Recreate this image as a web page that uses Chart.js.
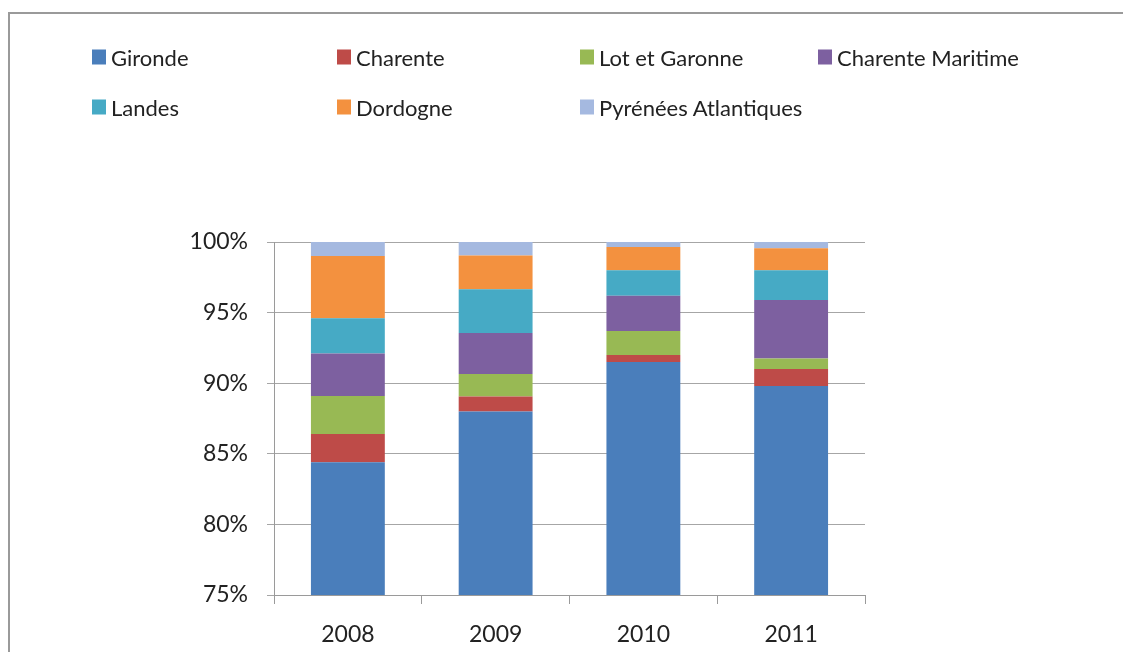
<!DOCTYPE html>
<html>
<head>
<meta charset="utf-8">
<script src="https://cdn.jsdelivr.net/npm/chart.js@4"></script>
<style>
  body { margin: 0; background: #fff; }
  #wrap { position: relative; width: 1123px; height: 652px; overflow: hidden; }
  #frame { position: absolute; left: 8px; top: 12px; width: 1200px; height: 700px;
           border-top: 2px solid #9a9a9a; border-left: 2px solid #9a9a9a; }
  #chart { position: absolute; left: 0; top: 0; }
  .leg { position: absolute; display: flex; align-items: center; font-family: Lato, sans-serif;
         font-size: 22px; color: #222; white-space: nowrap; transform: translateY(-50%); }
  .leg span.box { display: inline-block; width: 14px; height: 15px; margin-right: 5px; }
</style>
</head>
<body>
<div id="wrap">
  <div id="frame"></div>
  <canvas id="chart" width="1123" height="652"></canvas>
  <div id="legend"></div>
</div>
<script>
const years = ["2008", "2009", "2010", "2011"];

const seriesNames = ["Gironde", "Charente", "Lot et Garonne", "Charente Maritime",
  "Landes", "Dordogne", "Pyrénées Atlantiques"];
const colors = ["#4a7ebb", "#be4b48", "#98b954", "#7d60a0", "#46aac5", "#f3913f", "#a5b9e0"];

// shares in % per year
const gironde = [84.4, 88.0, 91.5, 89.8];
const charente = [2.0, 1.05, 0.5, 1.2];
const lotGaronne = [2.7, 1.6, 1.7, 0.75];
const charenteMaritime = [3.0, 2.9, 2.5, 4.15];
const landes = [2.5, 3.1, 1.8, 2.1];
const dordogne = [4.4, 2.4, 1.65, 1.55];
const pyrenees = [1.0, 0.95, 0.35, 0.45];

const yTicks = [75, 80, 85, 90, 95, 100];

const values = [gironde, charente, lotGaronne, charenteMaritime, landes, dordogne, pyrenees];

// legend laid out in fixed columns like the original
const legendCols = [92, 337, 580, 818];
const legendRows = [57, 107];

const datasets = seriesNames.map((name, i) => ({
  label: name,
  data: values[i],
  backgroundColor: colors[i],
  borderWidth: 0,
  barPercentage: 1,
  categoryPercentage: 0.5
}));

const tickFont = { family: "Lato", size: 23 };

new Chart(document.getElementById("chart"), {
  type: "bar",
  data: { labels: years, datasets: datasets },
  options: {
    responsive: false,
    animation: false,
    layout: { padding: { top: 242, right: 258, left: 0, bottom: 0 } },
    plugins: { legend: { display: false }, tooltip: { enabled: false } },
    scales: {
      x: {
        stacked: true,
        grid: { drawOnChartArea: false, drawTicks: true, tickLength: 9, color: "#9a9a9a" },
        border: { color: "#9a9a9a" },
        ticks: { font: tickFont, color: "#222", padding: 17 },
        afterFit: (s) => { s.height = 57; }
      },
      y: {
        stacked: true,
        min: 75,
        max: 100,
        afterBuildTicks: (s) => { s.ticks = yTicks.map((v) => ({ value: v })); },
        grid: { color: "#a6a6a6", tickLength: 7 },
        border: { color: "#9a9a9a" },
        ticks: { font: tickFont, color: "#222", padding: 19, callback: (v) => v + "%" },
        afterFit: (s) => { s.width = 274; }
      }
    }
  }
});

const legend = document.getElementById("legend");
seriesNames.forEach((name, i) => {
  const el = document.createElement("div");
  el.className = "leg";
  el.style.left = legendCols[i % 4] + "px";
  el.style.top = legendRows[Math.floor(i / 4)] + "px";
  el.innerHTML = '<span class="box" style="background:' + colors[i] + '"></span>' + name;
  legend.appendChild(el);
});
</script>
</body>
</html>
